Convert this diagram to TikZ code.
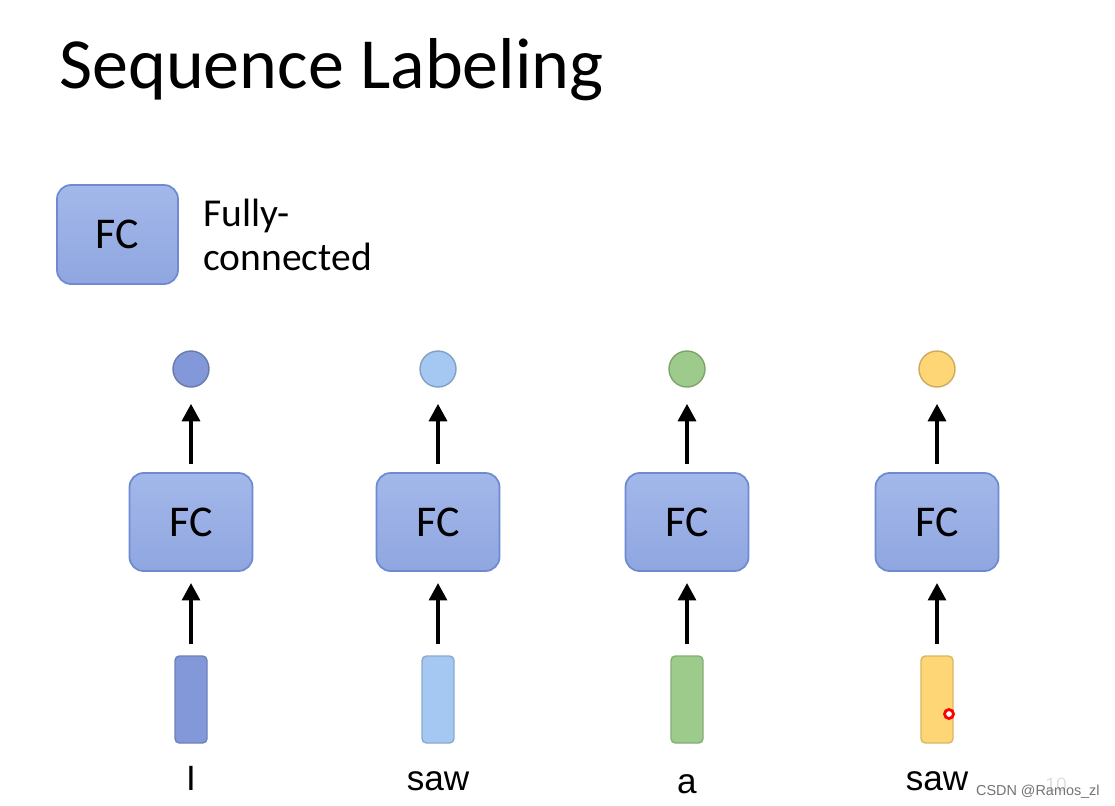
\documentclass[tikz,border=0pt]{standalone}
\usepackage{fontspec}
\setmainfont{Carlito}
\newfontfamily\arialf{Liberation Sans}
\usetikzlibrary{arrows.meta}
\definecolor{fcfill}{HTML}{8FA6E0}
\definecolor{fcfilltop}{HTML}{A3B8EA}
\definecolor{fcdraw}{HTML}{6F8AD0}
\definecolor{cA}{HTML}{8298D8}
\definecolor{cB}{HTML}{A4C8F2}
\definecolor{cC}{HTML}{9DCB8B}
\definecolor{cD}{HTML}{FFD676}
\tikzset{
  fcbox/.style={draw=fcdraw, line width=1pt, rounded corners=8pt, top color=fcfilltop, bottom color=fcfill,
    minimum width=123*0.02cm, minimum height=98*0.02cm, inner sep=0pt, font=\fontsize{25}{30}\selectfont},
  outc/.style={circle, draw=#1!80!black, line width=0.8pt, fill=#1, minimum size=36*0.02cm, inner sep=0pt},
  inbar/.style={draw=#1!85!black, line width=0.8pt, fill=#1, rounded corners=2.5pt, minimum width=32*0.02cm, minimum height=87*0.02cm, inner sep=0pt},
  uparrow/.style={-{Triangle[length=10pt,width=10pt]}, line width=2.6pt, black},
  word/.style={font=\arialf\fontsize{20}{24}\selectfont, anchor=base, inner sep=0pt},
}
\begin{document}
\begin{tikzpicture}[x=0.02cm,y=-0.02cm]
\useasboundingbox (0,0) rectangle (1115,805);
\fill[white] (0,0) rectangle (1115,805);
% title
\node[anchor=base west, inner sep=0pt, font=\fontsize{41}{48}\selectfont] (title) at (59,88) {Sequence Labeling};
% legend
\node[fcbox, minimum width=121*0.02cm, minimum height=99*0.02cm] (legend) at (117.5,234.5) {FC};
\node[anchor=base west, inner sep=0pt, font=\fontsize{22.5}{27}\selectfont] (fully) at (203,226) {Fully-};
\node[anchor=base west, inner sep=0pt, font=\fontsize{22.5}{27}\selectfont] (conn) at (203,270) {connected};
% columns
\foreach \i/\x/\c/\w/\b in {1/191/cA/I/790, 2/438/cB/saw/790, 3/687/cC/a/793, 4/937/cD/saw/790}{
  \node[outc=\c] (o\i) at (\x,369) {};
  \node[fcbox] (f\i) at (\x,522) {FC};
  \node[inbar=\c] (in\i) at (\x,699.5) {};
  \node[word] (w\i) at (\x,\b) {\w};
  \draw[uparrow] ([yshift=8*0.02cm]f\i.north) -- ([yshift=-16*0.02cm]o\i.south);
  \draw[uparrow] ([yshift=11*0.02cm]in\i.north) -- ([yshift=-11*0.02cm]f\i.south);
}
% pointer dot
\node[circle, draw=red, line width=1.6pt, fill=white, minimum size=9*0.02cm, inner sep=0pt] (dot) at (949,714) {};
% watermark
\node[anchor=base west, inner sep=0pt, text=black!12, font=\arialf\fontsize{11}{13}\selectfont] (pg) at (1045,791) {10};
\node[anchor=base east, inner sep=0pt, text=black!55, font=\arialf\fontsize{8.2}{10}\selectfont] (wm) at (1100,795) {CSDN @Ramos\_zl};
\end{tikzpicture}
\end{document}
